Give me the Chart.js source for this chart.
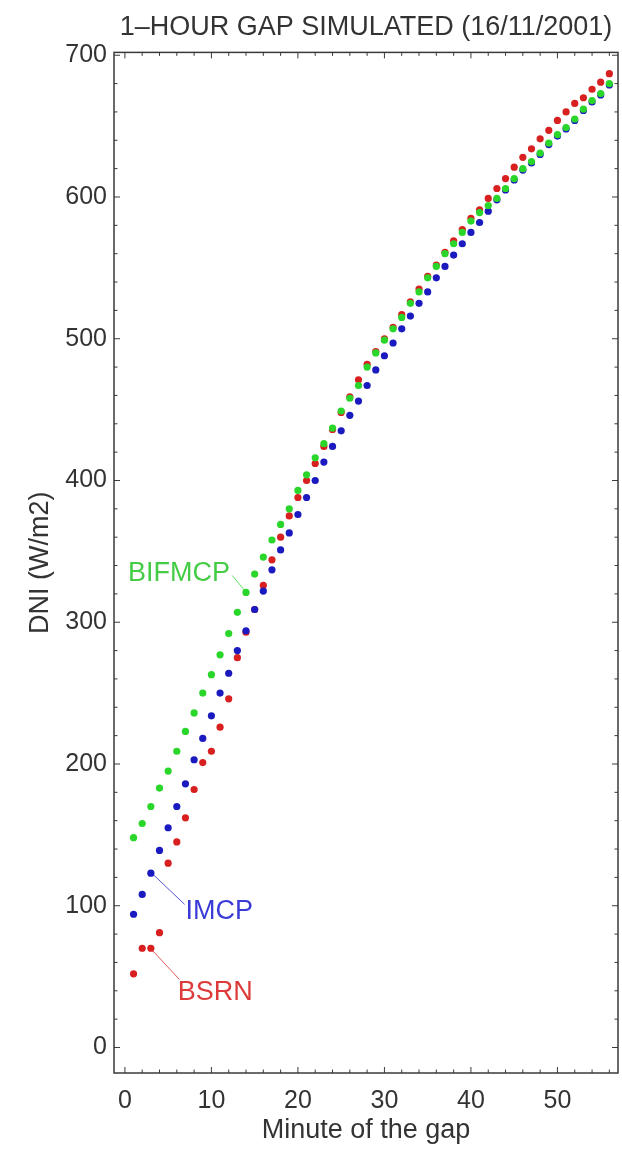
<!DOCTYPE html>
<html><head><meta charset="utf-8">
<script src="https://cdn.jsdelivr.net/npm/chart.js@4/dist/chart.umd.min.js"></script>
<style>html,body{margin:0;padding:0;background:#fff;}canvas{display:block;}</style>
</head><body>
<canvas id="c" width="622" height="1149"></canvas>
<script>
// ---- data ----
const minutes = [1,2,3,4,5,6,7,8,9,10,11,12,13,14,15,16,17,18,19,20,21,22,23,24,25,26,27,28,29,30,31,32,33,34,35,36,37,38,39,40,41,42,43,44,45,46,47,48,49,50,51,52,53,54,55,56];
const bsrn = [52,70,70,81,130,145,162,182,201,209,226,246,275,293,309,326,344,360,375,388,400,412,424,436,448,459,471,482,491,500,508,517,526,535,544,552,561,569,577,585,591,599,606,613,621,628,634,641,647,654,660,666,670,676,681,687];
const imcp = [94,108,123,139,155,170,186,203,218,234,250,264,280,294,309,322,337,351,363,376,388,400,413,424,435,446,456,467,478,488,497,507,516,525,533,543,551,559,567,575,582,590,598,605,612,619,624,630,637,643,648,654,661,667,672,679];
const bifmcp = [148,158,170,183,195,209,223,236,250,263,277,292,307,321,334,346,358,369,380,393,404,416,426,437,449,458,467,480,490,499,507,515,525,533,543,551,560,567,575,583,589,594,599,606,613,620,625,631,638,644,649,655,662,668,673,680];
const xTicks = [0,10,20,30,40,50];
const yTicks = [0,100,200,300,400,500,600,700];
const seriesNames = ['BIFMCP','IMCP','BSRN'];
const titleText = '1\u2013HOUR GAP SIMULATED (16/11/2001)';
const xTitle = 'Minute of the gap';
const yTitle = 'DNI (W/m2)';

// ---- styles / layout ----
const FONT = '"Liberation Sans", Arial, sans-serif';
const colors = {BIFMCP:'#2bd62b', IMCP:'#1a1ac0', BSRN:'#d82020'};
const labelColors = {BIFMCP:'#44cc44', IMCP:'#3a3ad8', BSRN:'#dd3a3a'};
// annotation placement (data units)
const notes = [
  {name:'BIFMCP', at:[0.35,334], line:[[12.4,333],[13.9,322]]},
  {name:'IMCP',   at:[7.0,96],   line:[[3.1,123],[6.9,101]]},
  {name:'BSRN',   at:[6.1,39],   line:[[3.1,69],[6.3,48]]}
];

const pts = arr => minutes.map((m,i)=>({x:m,y:arr[i]}));

const frameTicks = {
  id:'frameTicks',
  afterDatasetsDraw(chart){
    const {ctx, chartArea:a, scales:{x,y}} = chart;
    ctx.save();
    ctx.strokeStyle = '#3a3a3a';
    ctx.lineWidth = 1.5;
    ctx.strokeRect(a.left, a.top, a.right-a.left, a.bottom-a.top);
    ctx.lineWidth = 1;
    for (let v=0; v<=56; v+=2){
      const px = x.getPixelForValue(v);
      if (px < a.left || px > a.right) continue;
      const L = v%10===0 ? 6 : 3.5;
      ctx.beginPath();
      ctx.moveTo(px,a.bottom); ctx.lineTo(px,a.bottom-L);
      ctx.moveTo(px,a.top); ctx.lineTo(px,a.top+L);
      ctx.stroke();
    }
    for (let v=0; v<=700; v+=20){
      const py = y.getPixelForValue(v);
      const L = v%100===0 ? 6 : 3.5;
      ctx.beginPath();
      ctx.moveTo(a.left,py); ctx.lineTo(a.left+L,py);
      ctx.moveTo(a.right,py); ctx.lineTo(a.right-L,py);
      ctx.stroke();
    }
    ctx.restore();
  }
};

const annot = {
  id:'annot',
  afterDatasetsDraw(chart){
    const {ctx, scales:{x,y}} = chart;
    ctx.save();
    notes.forEach(n=>{
      ctx.strokeStyle = colors[n.name];
      ctx.globalAlpha = 0.75;
      ctx.lineWidth = 1;
      ctx.beginPath();
      ctx.moveTo(x.getPixelForValue(n.line[0][0]), y.getPixelForValue(n.line[0][1]));
      ctx.lineTo(x.getPixelForValue(n.line[1][0]), y.getPixelForValue(n.line[1][1]));
      ctx.stroke();
      ctx.globalAlpha = 1;
      ctx.fillStyle = labelColors[n.name];
      ctx.font = '27px ' + FONT;
      ctx.textAlign = 'left';
      ctx.textBaseline = 'middle';
      ctx.fillText(n.name, x.getPixelForValue(n.at[0]), y.getPixelForValue(n.at[1]));
    });
    ctx.restore();
  }
};

const ds = (name, arr) => ({
  label:name, data:pts(arr),
  backgroundColor:colors[name], borderColor:colors[name],
  pointRadius:3.6, pointBorderWidth:0, showLine:false
});

new Chart(document.getElementById('c'), {
  type:'scatter',
  data:{datasets:[ds('BIFMCP',bifmcp), ds('IMCP',imcp), ds('BSRN',bsrn)]},
  options:{
    responsive:false, animation:false, devicePixelRatio:1,
    layout:{padding:{top:0,left:0,right:1,bottom:0}},
    plugins:{
      legend:{display:false}, tooltip:{enabled:false},
      title:{display:true, text:titleText, fullSize:false, color:'#333',
        font:{family:FONT, size:27, weight:'normal', lineHeight:1.2},
        padding:{top:11,bottom:9}}
    },
    scales:{
      x:{type:'linear', min:-1.26, max:57,
        afterBuildTicks:s=>{s.ticks = xTicks.map(v=>({value:v}));},
        afterFit:s=>{s.height = 76;},
        grid:{display:false, drawTicks:false}, border:{display:false},
        ticks:{color:'#333', padding:13, font:{family:FONT,size:25}, maxRotation:0},
        title:{display:true, text:xTitle, color:'#333', font:{family:FONT,size:27,lineHeight:1.2}, padding:{top:0,bottom:2}}
      },
      y:{type:'linear', min:-18, max:702,
        afterBuildTicks:s=>{s.ticks = yTicks.map(v=>({value:v}));},
        afterFit:s=>{s.width = 114;},
        grid:{display:false, drawTicks:false}, border:{display:false},
        ticks:{color:'#333', padding:7, font:{family:FONT,size:25}},
        title:{display:true, text:yTitle, color:'#333', font:{family:FONT,size:27,lineHeight:1.2}, padding:{top:24,bottom:0}}
      }
    }
  },
  plugins:[frameTicks, annot]
});
</script>
</body></html>
